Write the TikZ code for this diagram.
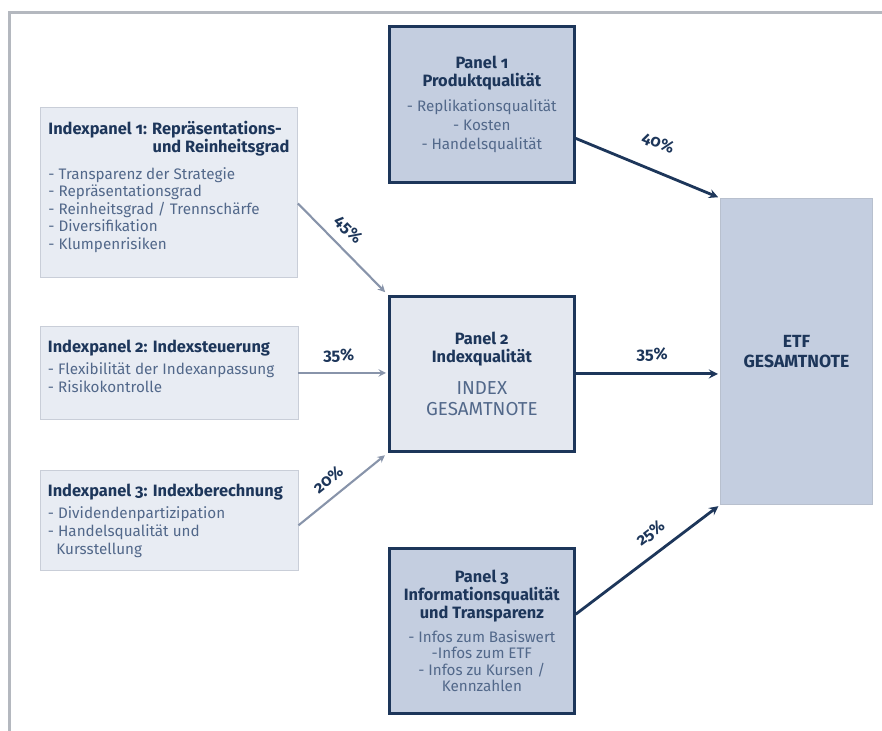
\documentclass[tikz,border=0pt]{standalone}
\usepackage{fontspec}
\setmainfont{Fira Sans}[Numbers=OldStyle]
\usepackage{tikz}
\usetikzlibrary{positioning}
\usetikzlibrary{shapes.geometric, arrows}

\definecolor{navy}{HTML}{1D365A}
\definecolor{itemblue}{HTML}{52688A}
\definecolor{subfill}{HTML}{E8ECF3}
\definecolor{subline}{HTML}{C9CED8}
\definecolor{panelfill}{HTML}{C4CEE0}
\definecolor{indexfill}{HTML}{E4E8F0}
\definecolor{etfline}{HTML}{B8C0CE}
\definecolor{arrowcol}{HTML}{8894AA}
\definecolor{framegray}{HTML}{B4B8BF}

\newcommand{\headtxt}{\fontsize{14}{15.5}\selectfont\bfseries\color{navy}}
\newcommand{\itemtxt}{\fontsize{13}{15}\selectfont\mdseries\color{itemblue}}
\newcommand{\bigtxt}{\fontsize{16}{18}\selectfont\mdseries\color{itemblue}}
\newcommand{\boxtext}[3]{\parbox[t][#1][t]{#2}{\raggedright #3}}

\tikzstyle{indexbox} = [draw=subline,fill=subfill,line width=0.8pt,anchor=north west,inner xsep=0.24cm,inner ysep=0.4cm]
\tikzstyle{panel} = [draw=navy,fill=panelfill,line width=2.3pt,minimum width=5.55cm,text width=5.3cm,align=center,inner sep=0pt]
\tikzstyle{arrowlight} = [line width=1.8pt,->,>=stealth,draw=arrowcol]
\tikzstyle{arrowdark} = [line width=2.4pt,->,>=stealth,draw=navy]
\tikzstyle{pct} = [font=\fontsize{14}{15}\selectfont\bfseries,text=navy,sloped,above=5pt]

\begin{document}
\begin{tikzpicture}[x=0.03cm,y=-0.03cm]
	\useasboundingbox (0,0) rectangle (882,731);
	%Frame
	\draw[framegray,line width=2.4pt] (9.5,731) -- (9.5,12.5) -- (882,12.5);

	%Index panels
	\node [indexbox] (ip1) at (40,107) {\boxtext{4.3cm}{7.23cm}{\headtxt Indexpanel 1: Repräsentations-\\\hspace*{\fill}und Reinheitsgrad\par\vspace{8pt}\itemtxt - Transparenz der Strategie\\- Repräsentationsgrad\\- Reinheitsgrad / Trennschärfe\\- Diversifikation\\- Klumpenrisiken}};
	\node [indexbox,below=1.44cm of ip1] (ip2) {\boxtext{1.99cm}{7.26cm}{\headtxt Indexpanel 2: Indexsteuerung\par\vspace{4pt}\itemtxt - Flexibilität der Indexanpassung\\- Risikokontrolle}};
	\node [indexbox,below=1.5cm of ip2] (ip3) {\boxtext{2.2cm}{7.26cm}{\headtxt Indexpanel 3: Indexberechnung\par\vspace{4.5pt}\itemtxt - Dividendenpartizipation\\- Handelsqualität und\\\hspace*{0.55em}Kursstellung}};

	%Panels
	\node [panel,anchor=north west,minimum height=4.68cm] (p1) at (388,25) {{\headtxt Panel 1\\Produktqualität\par}\vspace{5pt}{\itemtxt\baselineskip=16pt - Replikationsqualität\\- Kosten\\- Handelsqualität\par}\vspace{6pt}};
	\node [panel,fill=indexfill,minimum height=4.65cm,below=3.34cm of p1] (p2) {{\headtxt Panel 2\\Indexqualität\par}\vspace{9pt}{\bigtxt INDEX\\GESAMTNOTE\par}\vspace{14pt}};
	\node [panel,minimum height=4.95cm,below=2.83cm of p2] (p3) {{\headtxt Panel 3\\Informationsqualität\\und Transparenz\par}\vspace{6pt}{\itemtxt\baselineskip=14pt - Infos zum Basiswert\\-Infos zum ETF\\- Infos zu Kursen /\\Kennzahlen\par}\vspace{3pt}};

	\node [draw=etfline,fill=panelfill,line width=0.8pt,anchor=north west,minimum width=4.56cm,minimum height=9.18cm,align=center,font=\fontsize{15}{17}\selectfont\bfseries,text=navy] (etf) at (720,198) {ETF\\GESAMTNOTE};

	%Lines
	\draw[arrowlight,shorten >=0.12cm] ([yshift=-0.33cm]ip1.east) -- (p2.north west) node[pct,pos=0.42] {45\%};
	\draw[arrowlight,shorten >=0.06cm] (ip2.east) -- (ip2.east -| p2.west) node[pct,pos=0.45] {35\%};
	\draw[arrowlight,shorten >=0.12cm] ([yshift=-0.15cm]ip3.east) -- (p2.south west) node[pct,pos=0.45] {20\%};

	\draw[arrowdark,shorten >=0.06cm] ([yshift=-1.02cm]p1.east) -- (etf.north west) node[pct,pos=0.5,above=13pt] {40\%};
	\draw[arrowdark,shorten >=0.06cm] (p2.east) -- (p2.east -| etf.west) node[pct,pos=0.53,above=6pt] {35\%};
	\draw[arrowdark,shorten >=0.06cm] ([yshift=0.5cm]p3.east) -- (etf.south west) node[pct,pos=0.6,above=6pt] {25\%};
\end{tikzpicture}
\end{document}
